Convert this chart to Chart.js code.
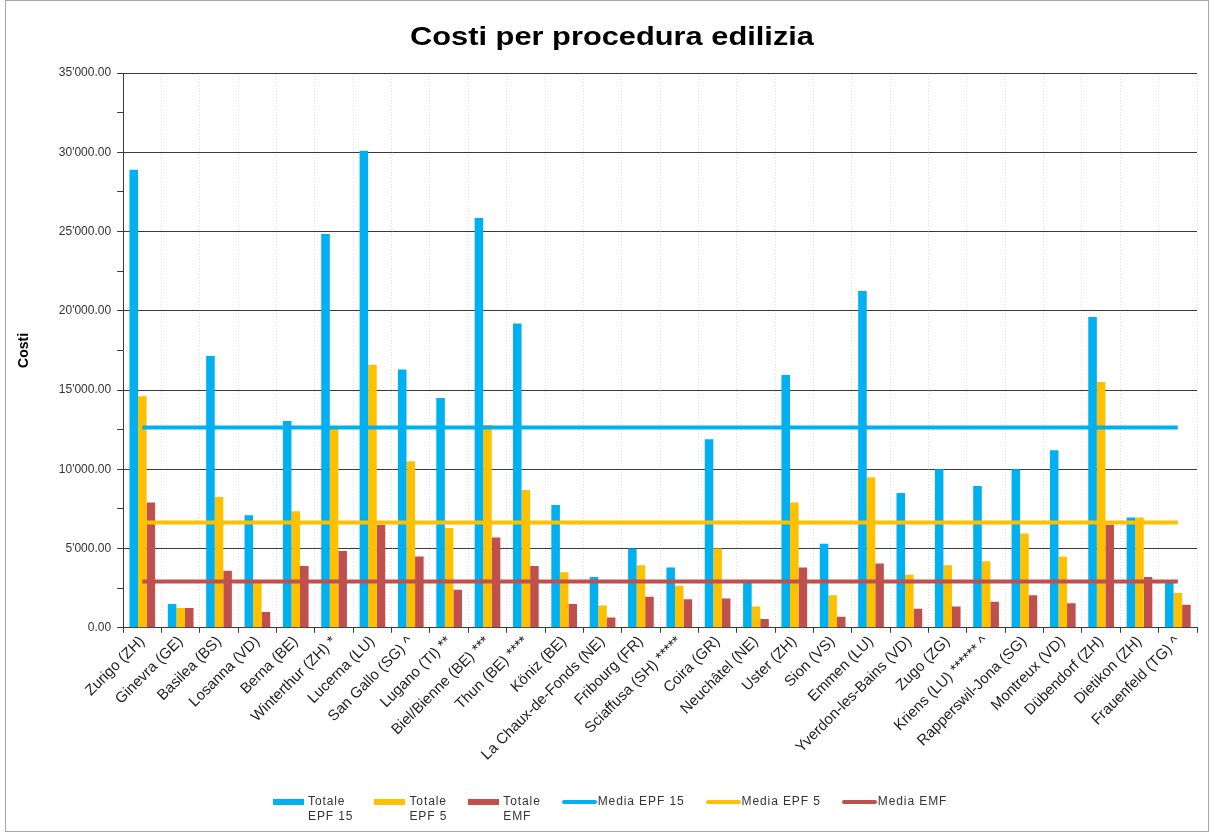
<!DOCTYPE html>
<html>
<head>
<meta charset="utf-8">
<title>Costi per procedura edilizia</title>
<script src="https://cdn.jsdelivr.net/npm/chart.js@4.4.1/dist/chart.umd.min.js"></script>
<style>
    html, body { margin: 0; padding: 0; background: #ffffff; }
    #wrap { position: relative; width: 1214px; height: 832px; overflow: hidden; }
    #frame { position: absolute; left: 5px; top: 0; width: 1202px; height: 830px; border: 1px solid #a6a6a6; pointer-events: none; }
    #costiChart { position: absolute; left: 0; top: 0; }
    #legend {
        position: absolute; left: 273px; top: 794px;
        display: flex; gap: 21px;
        font-family: 'Liberation Sans', Arial, sans-serif; font-size: 12px; color: #333333;
        letter-spacing: 0.9px; line-height: 15px;
    }
    .item { display: flex; align-items: flex-start; }
</style>
</head>
<body>
<div id="wrap">
    <canvas id="costiChart" width="1214" height="832"></canvas>
    <div id="legend"></div>
    <div id="frame"></div>
</div>
<script>
// Categorie (comuni)
const CATEGORIES = [
    'Zurigo (ZH)', 'Ginevra (GE)', 'Basilea (BS)', 'Losanna (VD)', 'Berna (BE)',
    'Winterthur (ZH) *', 'Lucerna (LU)', 'San Gallo (SG) ^', 'Lugano (TI) **',
    'Biel/Bienne (BE) ***', 'Thun (BE) ****', 'Köniz (BE)', 'La Chaux-de-Fonds (NE)',
    'Fribourg (FR)', 'Sciaffusa (SH) *****', 'Coira (GR)', 'Neuchâtel (NE)', 'Uster (ZH)',
    'Sion (VS)', 'Emmen (LU)', 'Yverdon-les-Bains (VD)', 'Zugo (ZG)', 'Kriens (LU) ****** ^',
    'Rapperswil-Jona (SG)', 'Montreux (VD)', 'Dübendorf (ZH)', 'Dietikon (ZH)', 'Frauenfeld (TG) ^'
];

// Valori
const TOTALE_EPF15 = [28900, 1500, 17150, 7100, 13050, 24850, 30100, 16300, 14500, 25850, 19200, 7750, 3200, 5000,
    3800, 11900, 2850, 15950, 5300, 21250, 8500, 10000, 8950, 10000, 11200, 19600, 6950, 2850];
const TOTALE_EPF5 = [14600, 1250, 8250, 2900, 7350, 12550, 16600, 10500, 6300, 12800, 8700, 3500, 1400, 3950,
    2650, 5000, 1350, 7900, 2050, 9500, 3350, 3950, 4200, 5950, 4500, 15500, 6950, 2200];
const TOTALE_EMF = [7900, 1250, 3600, 1000, 3900, 4850, 6500, 4500, 2400, 5700, 3900, 1500, 650, 1950,
    1800, 1850, 550, 3800, 700, 4050, 1200, 1350, 1650, 2050, 1550, 6500, 3200, 1450];

// Medie
const MEDIA_EPF15 = 12630;
const MEDIA_EPF5 = 6640;
const MEDIA_EMF = 2920;

// Asse Y
const Y_MAX = 35000;
const Y_MINOR_STEP = 2500;
const Y_MAJOR_STEP = 5000;

const TITLE = 'Costi per procedura edilizia';

const COLORS = {
    blue: '#00B0F0',
    yellow: '#FFC000',
    red: '#C0504D',
    axis: '#3a3a3a'
};

const FONT = "'Liberation Sans', Arial, sans-serif";

function formatCosti(v) {
    const parts = v.toFixed(2).split('.');
    return parts[0].replace(/\B(?=(\d{3})+(?!\d))/g, "'") + '.' + parts[1];
}

// linea orizzontale dalla prima all'ultima categoria
function mediaLine(value) {
    return [
        { x: CATEGORIES[0], y: value },
        { x: CATEGORIES[CATEGORIES.length - 1], y: value }
    ];
}

// titolo leggermente allargato in orizzontale (come nell'originale)
const wideTitle = {
    id: 'wideTitle',
    afterDraw(chart) {
        const c = chart.ctx;
        c.save();
        c.font = 'bold 26px ' + FONT;
        c.fillStyle = '#000000';
        c.textAlign = 'center';
        c.textBaseline = 'middle';
        const w = c.measureText(TITLE).width;
        c.translate(612, 38);
        c.scale(404 / w, 1);
        c.fillText(TITLE, 0, 0);
        c.restore();
    }
};

const barCommon = {
    type: 'bar',
    order: 1,
    borderWidth: 0,
    categoryPercentage: 0.67,
    barPercentage: 1.0
};

const lineCommon = {
    type: 'line',
    order: 0,
    borderWidth: 4,
    pointRadius: 0,
    fill: false,
    tension: 0
};

const datasets = [
    { ...barCommon, label: ['Totale', 'EPF 15'], data: TOTALE_EPF15, backgroundColor: COLORS.blue },
    { ...barCommon, label: ['Totale', 'EPF 5'], data: TOTALE_EPF5, backgroundColor: COLORS.yellow },
    { ...barCommon, label: ['Totale', 'EMF'], data: TOTALE_EMF, backgroundColor: COLORS.red },
    { ...lineCommon, label: ['Media EPF 15'], data: mediaLine(MEDIA_EPF15), borderColor: COLORS.blue },
    { ...lineCommon, label: ['Media EPF 5'], data: mediaLine(MEDIA_EPF5), borderColor: COLORS.yellow },
    { ...lineCommon, label: ['Media EMF'], data: mediaLine(MEDIA_EMF), borderColor: COLORS.red }
];

const ctx = document.getElementById('costiChart');
const chart = new Chart(ctx, {
    data: { labels: CATEGORIES, datasets: datasets },
    plugins: [wideTitle],
    options: {
        responsive: false,
        animation: false,
        layout: { padding: { left: 8, right: 17, top: 73, bottom: 68 } },
        plugins: {
            legend: { display: false },
            tooltip: { enabled: true },
            title: { display: false }
        },
        scales: {
            x: {
                type: 'category',
                offset: true,
                grid: {
                    display: true,
                    offset: true,
                    color: '#e2e2e2',
                    tickColor: COLORS.axis,
                    tickLength: 5,
                    lineWidth: 1
                },
                border: { display: true, color: COLORS.axis, width: 1, dash: [1, 2] },
                ticks: {
                    autoSkip: false,
                    maxRotation: 45,
                    minRotation: 45,
                    padding: 0,
                    color: '#222222',
                    font: { family: FONT, size: 15 }
                }
            },
            y: {
                min: 0,
                max: Y_MAX,
                grid: {
                    color: (c) => (c.tick && c.tick.value % Y_MAJOR_STEP === 0) ? COLORS.axis : 'rgba(0,0,0,0)',
                    tickColor: COLORS.axis,
                    tickLength: 6,
                    lineWidth: 1
                },
                border: { display: true, color: COLORS.axis, width: 1 },
                ticks: {
                    stepSize: Y_MINOR_STEP,
                    padding: 6,
                    color: '#333333',
                    font: { family: FONT, size: 12 },
                    callback: (v) => (v % Y_MAJOR_STEP === 0) ? formatCosti(v) : ''
                },
                title: {
                    display: true,
                    text: 'Costi',
                    color: '#000000',
                    font: { family: FONT, size: 14, weight: 'bold' },
                    padding: { top: 8, bottom: 20 }
                }
            }
        }
    }
});

// Legenda HTML (etichette su due righe come nell'originale)
const legendEl = document.getElementById('legend');
chart.data.datasets.forEach((ds) => {
    const item = document.createElement('div');
    item.className = 'item';
    const sw = document.createElement('div');
    const isBar = ds.type === 'bar';
    sw.style.width = isBar ? '31px' : '35px';
    sw.style.height = isBar ? '6px' : '4px';
    sw.style.marginTop = isBar ? '5px' : '6px';
    sw.style.borderRadius = isBar ? '0' : '2px';
    sw.style.marginRight = isBar ? '4px' : '1px';
    sw.style.background = isBar ? ds.backgroundColor : ds.borderColor;
    const txt = document.createElement('div');
    txt.innerHTML = ds.label.join('<br>');
    item.appendChild(sw);
    item.appendChild(txt);
    legendEl.appendChild(item);
});
</script>
</body>
</html>
